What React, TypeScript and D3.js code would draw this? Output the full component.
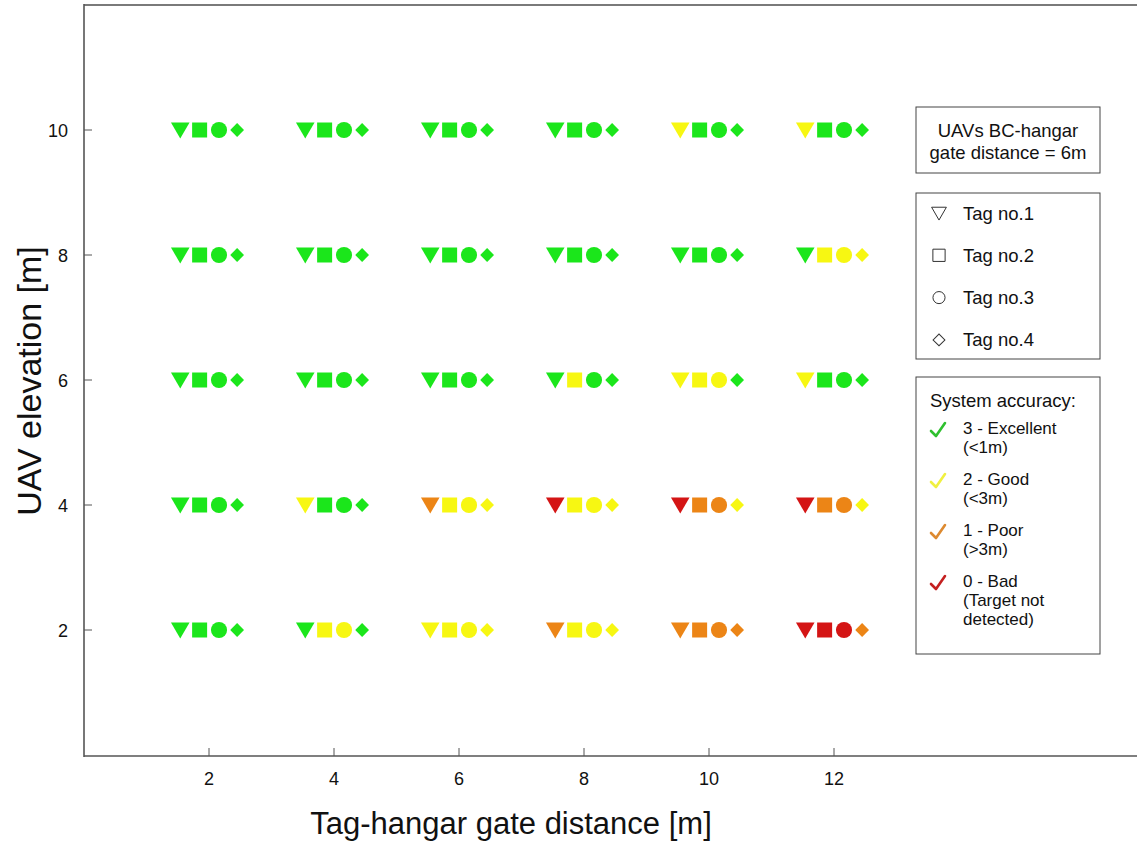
import React from "react";
import * as d3 from "d3";

const distances = [2, 4, 6, 8, 10, 12];
const elevations = [10, 8, 6, 4, 2];
const xTicks = [2, 4, 6, 8, 10, 12];
const yTicks = [2, 4, 6, 8, 10];

// accuracy level per [elevation row][distance col]: 3 excellent, 2 good, 1 poor, 0 bad
const tag1Accuracy = [
  [3, 3, 3, 3, 2, 2],
  [3, 3, 3, 3, 3, 3],
  [3, 3, 3, 3, 2, 2],
  [3, 2, 1, 0, 0, 0],
  [3, 3, 2, 1, 1, 0],
];
const tag2Accuracy = [
  [3, 3, 3, 3, 3, 3],
  [3, 3, 3, 3, 3, 2],
  [3, 3, 3, 2, 2, 3],
  [3, 3, 2, 2, 1, 1],
  [3, 2, 2, 2, 1, 0],
];
const tag3Accuracy = [
  [3, 3, 3, 3, 3, 3],
  [3, 3, 3, 3, 3, 2],
  [3, 3, 3, 3, 2, 3],
  [3, 3, 2, 2, 1, 1],
  [3, 2, 2, 2, 1, 0],
];
const tag4Accuracy = [
  [3, 3, 3, 3, 3, 3],
  [3, 3, 3, 3, 3, 2],
  [3, 3, 3, 3, 3, 3],
  [3, 3, 2, 2, 2, 2],
  [3, 3, 2, 2, 1, 1],
];

const tagNames = ["Tag no.1", "Tag no.2", "Tag no.3", "Tag no.4"];
const accuracyLabels = [
  ["3 - Excellent", "(<1m)"],
  ["2 - Good", "(<3m)"],
  ["1 - Poor", "(>3m)"],
  ["0 - Bad", "(Target not", "detected)"],
];

const levelColors: Record<number, string> = {
  3: "#1be61b",
  2: "#f7f712",
  1: "#ec8516",
  0: "#d41515",
};
const checkColors = ["#2fc02f", "#f0f040", "#dd8a30", "#c42020"];

const W = 1137;
const H = 843;
const FONT = "'Liberation Sans', Arial, sans-serif";

const x = d3.scaleLinear().domain([0, 16.848]).range([84, 1137]);
const y = d3.scaleLinear().domain([0, 12]).range([755, 5]);

const tagOffsets = [-0.46, -0.15, 0.16, 0.45];

const symTri = d3.symbol().type(d3.symbolTriangle).size(150)()!;
const symSq = d3.symbol().type(d3.symbolSquare).size(225)()!;
const symCirc = d3.symbol().type(d3.symbolCircle).size(205)()!;
const symDia = d3.symbol().type(d3.symbolSquare).size(95)()!;

const legTri = d3.symbol().type(d3.symbolTriangle).size(95)()!;
const legSq = d3.symbol().type(d3.symbolSquare).size(150)()!;
const legCirc = d3.symbol().type(d3.symbolCircle).size(115)()!;
const legDia = d3.symbol().type(d3.symbolSquare).size(70)()!;

const shapes = [
  { d: symTri, rot: 180, dy: -2.2 },
  { d: symSq, rot: 0, dy: 0 },
  { d: symCirc, rot: 0, dy: 0 },
  { d: symDia, rot: 45, dy: 0 },
];
const legShapes = [
  { d: legTri, rot: 180, dy: -1.5 },
  { d: legSq, rot: 0, dy: 0 },
  { d: legCirc, rot: 0, dy: 0 },
  { d: legDia, rot: 45, dy: 0 },
];

const tagData = [tag1Accuracy, tag2Accuracy, tag3Accuracy, tag4Accuracy];

export default function App() {
  const marks: JSX.Element[] = [];
  elevations.forEach((e, ri) => {
    distances.forEach((dist, ci) => {
      tagData.forEach((arr, ti) => {
        const lvl = arr[ri][ci];
        const s = shapes[ti];
        marks.push(
          <path
            key={`${ri}-${ci}-${ti}`}
            d={s.d}
            fill={levelColors[lvl]}
            transform={`translate(${x(dist + tagOffsets[ti])},${y(e) + s.dy}) rotate(${s.rot})`}
          />
        );
      });
    });
  });

  const lx = 916;
  const lw = 184;
  const LF = 18.5;
  const AF = 17;

  return (
    <svg
      width={W}
      height={H}
      style={{ position: "absolute", left: 0, top: 0, background: "#fff" }}
      fontFamily={FONT}
    >
      <rect x={0} y={0} width={W} height={H} fill="#fff" />
      {/* frame */}
      <line x1={84} x2={W} y1={5} y2={5} stroke="#7a7a7a" strokeWidth={2} />
      <line x1={84} x2={W} y1={756} y2={756} stroke="#555" strokeWidth={1.6} />
      <line x1={84} x2={84} y1={4} y2={757} stroke="#555" strokeWidth={1.6} />
      {/* ticks */}
      {xTicks.map((t) => (
        <g key={`xt${t}`}>
          <line x1={x(t)} x2={x(t)} y1={756} y2={748} stroke="#555" strokeWidth={1} />
          <text x={x(t)} y={785} fontSize={18} textAnchor="middle" fill="#111">
            {t}
          </text>
        </g>
      ))}
      {yTicks.map((t) => (
        <g key={`yt${t}`}>
          <line x1={84} x2={92} y1={y(t)} y2={y(t)} stroke="#555" strokeWidth={1} />
          <text x={68} y={y(t) + 6.5} fontSize={18} textAnchor="end" fill="#111">
            {t}
          </text>
        </g>
      ))}
      <text x={511} y={834} fontSize={31} textAnchor="middle" fill="#111">
        Tag-hangar gate distance [m]
      </text>
      <text
        transform={`translate(41,381) rotate(-90)`}
        fontSize={34}
        textAnchor="middle"
        fill="#111"
      >
        UAV elevation [m]
      </text>
      {marks}
      {/* legend box 1 */}
      <rect x={lx} y={107} width={lw} height={66} fill="#fff" stroke="#444" strokeWidth={1} />
      <text x={lx + lw / 2} y={137} fontSize={LF} textAnchor="middle" fill="#111">
        UAVs BC-hangar
      </text>
      <text x={lx + lw / 2} y={159} fontSize={LF} textAnchor="middle" fill="#111">
        gate distance = 6m
      </text>
      {/* legend box 2 */}
      <rect x={lx} y={193} width={lw} height={166} fill="#fff" stroke="#444" strokeWidth={1} />
      {tagNames.map((n, i) => {
        const cy = 213 + i * 42.3;
        const s = legShapes[i];
        return (
          <g key={n}>
            <path
              d={s.d}
              fill="none"
              stroke="#333"
              strokeWidth={1}
              transform={`translate(939,${cy + s.dy}) rotate(${s.rot})`}
            />
            <text x={963} y={cy + 6.5} fontSize={LF} fill="#111">
              {n}
            </text>
          </g>
        );
      })}
      {/* legend box 3 */}
      <rect x={lx} y={377} width={lw} height={277} fill="#fff" stroke="#444" strokeWidth={1} />
      <text x={930} y={407} fontSize={LF} fill="#111">
        System accuracy:
      </text>
      {accuracyLabels.map((lines, i) => {
        const top = 428 + i * 51;
        return (
          <g key={`acc${i}`}>
            <path
              d={`M${931},${top + 3} L${936},${top + 8} L${945},${top - 5}`}
              fill="none"
              stroke={checkColors[i]}
              strokeWidth={2.6}
              strokeLinecap="round"
              strokeLinejoin="round"
            />
            {lines.map((l, j) => (
              <text key={j} x={963} y={top + 6 + j * 19.1} fontSize={AF} fill="#111">
                {l}
              </text>
            ))}
          </g>
        );
      })}
    </svg>
  );
}
